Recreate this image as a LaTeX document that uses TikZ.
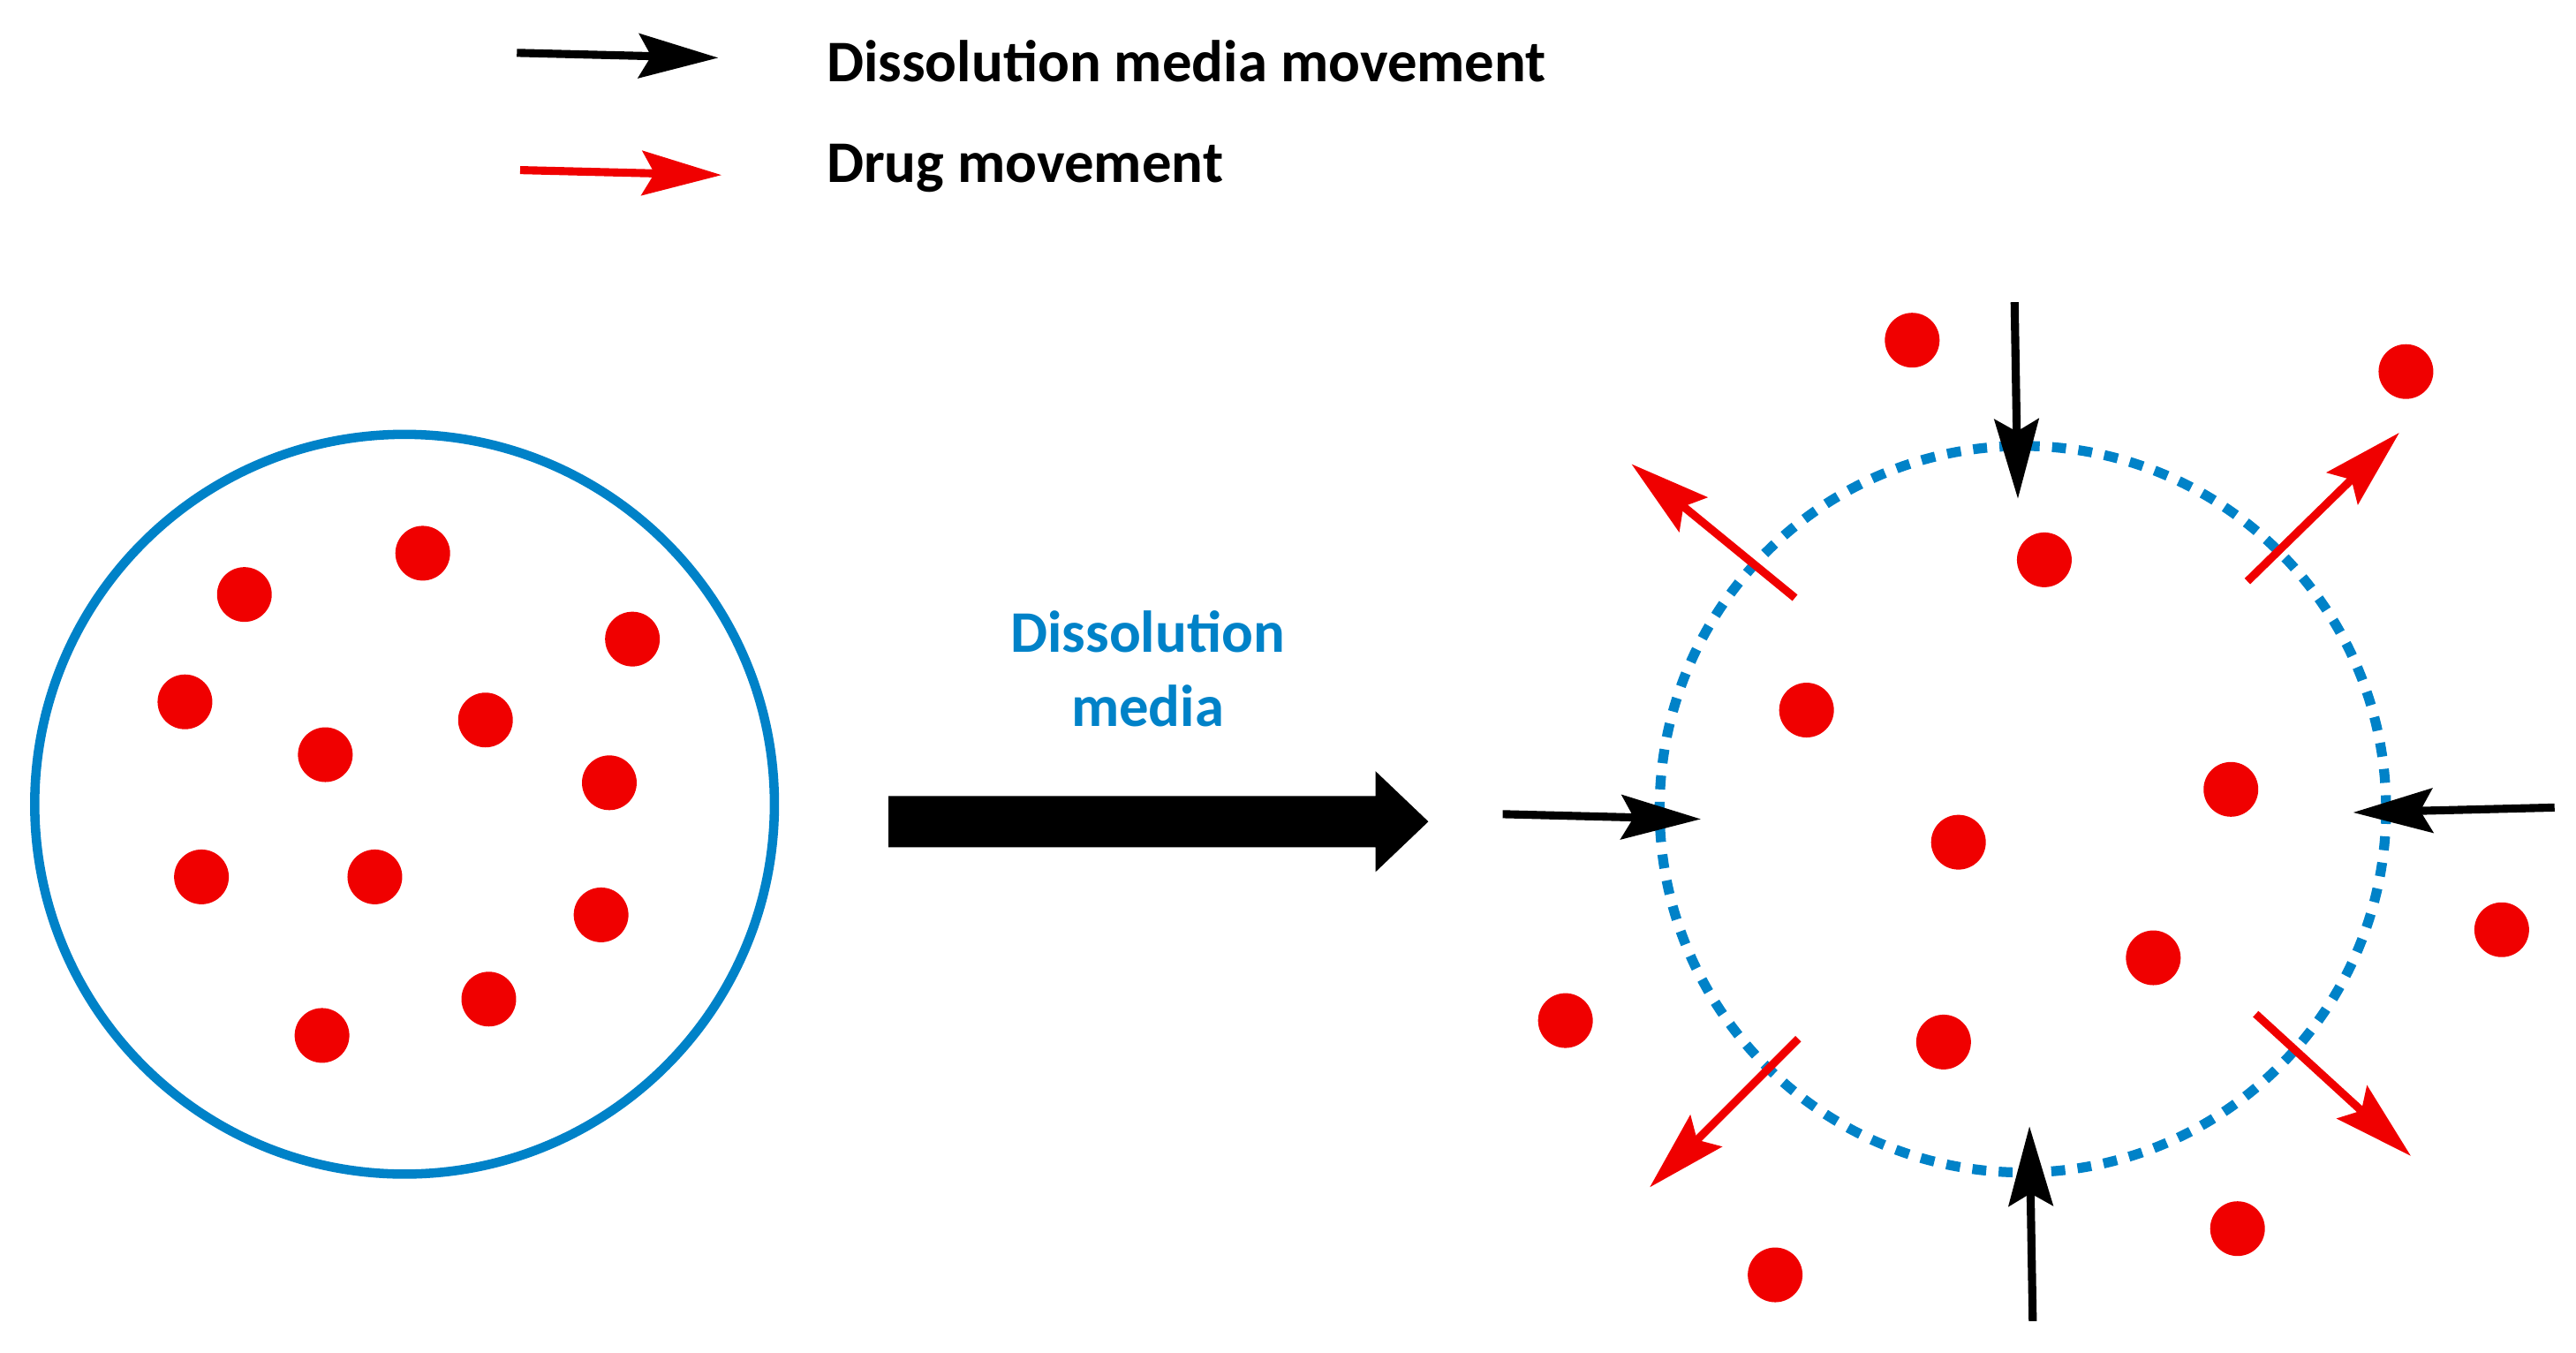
\documentclass[tikz,border=0pt]{standalone}
\usepackage{fontspec}
\setmainfont{Carlito}
\usetikzlibrary{arrows.meta}
\definecolor{cblue}{RGB}{0,130,200}
\definecolor{cred}{RGB}{240,0,0}
\begin{document}
\begin{tikzpicture}[x=0.0187cm,y=-0.0187cm,
  dot/.style={circle,fill=cred,minimum size=0.62cm,inner sep=0},
  arr/.style={line width=2.6pt,-{Stealth[length=0.9cm,width=0.5cm,inset=0.14cm]}},
  lab/.style={font=\bfseries\fontsize{19}{23}\selectfont,anchor=west}]
\useasboundingbox (0,0) rectangle (1560,819);
% legend
\coordinate (l1a) at (313,32); \coordinate (l1b) at (435,35);
\coordinate (l2a) at (315,103); \coordinate (l2b) at (437,106);
\draw[arr,black] (l1a) -- (l1b);
\draw[arr,cred] (l2a) -- (l2b);
\node[lab] (t1) at (494,37) {Dissolution media movement};
\node[lab] (t2) at (494,102) {Drug movement};
% left circle
\node[circle,draw=cblue,line width=3pt,minimum size=8.38cm,inner sep=0] (c1) at (245,487) {};
\foreach \p [count=\i] in {(148,360),(256,335),(383,387),(112,425),(197,457),(294,436),(369,474),(122,531),(227,531),(364,554),(195,627),(296,605)}
  \node[dot] (a\i) at \p {};
% big arrow
\fill (538,482) -- (833,482) -- (833,467) -- (865,497.5) -- (833,528) -- (833,513) -- (538,513) -- cycle;
\node[font=\bfseries\fontsize{19}{24}\selectfont,text=cblue,align=center] (dm) at (695,405) {Dissolution\\media};
% right dashed circle
\node[circle,draw=cblue,line width=3.2pt,dash pattern=on 4.5pt off 4pt,minimum size=8.23cm,inner sep=0] (c2) at (1225,490) {};
\foreach \p [count=\i] in {(1158,206),(1457,225),(1238,339),(1094,430),(1351,478),(1186,510),(1304,580),(1177,631),(948,618),(1515,563),(1355,744),(1075,772)}
  \node[dot] (b\i) at \p {};
% black arrows
\coordinate (k1a) at (1220,183); \coordinate (k1b) at (1222,302);
\coordinate (k2a) at (910,493); \coordinate (k2b) at (1030,496);
\coordinate (k3a) at (1547,489); \coordinate (k3b) at (1425,492);
\coordinate (k4a) at (1231,800); \coordinate (k4b) at (1229,682);
\foreach \i in {1,...,4} \draw[arr,black] (k\i a) -- (k\i b);
% red arrows
\coordinate (r1a) at (1087,362); \coordinate (r1b) at (988,281);
\coordinate (r2a) at (1361,352); \coordinate (r2b) at (1453,262);
\coordinate (r3a) at (1089,629); \coordinate (r3b) at (999,719);
\coordinate (r4a) at (1366,614); \coordinate (r4b) at (1460,700);
\foreach \i in {1,...,4} \draw[arr,cred] (r\i a) -- (r\i b);
\end{tikzpicture}
\end{document}
